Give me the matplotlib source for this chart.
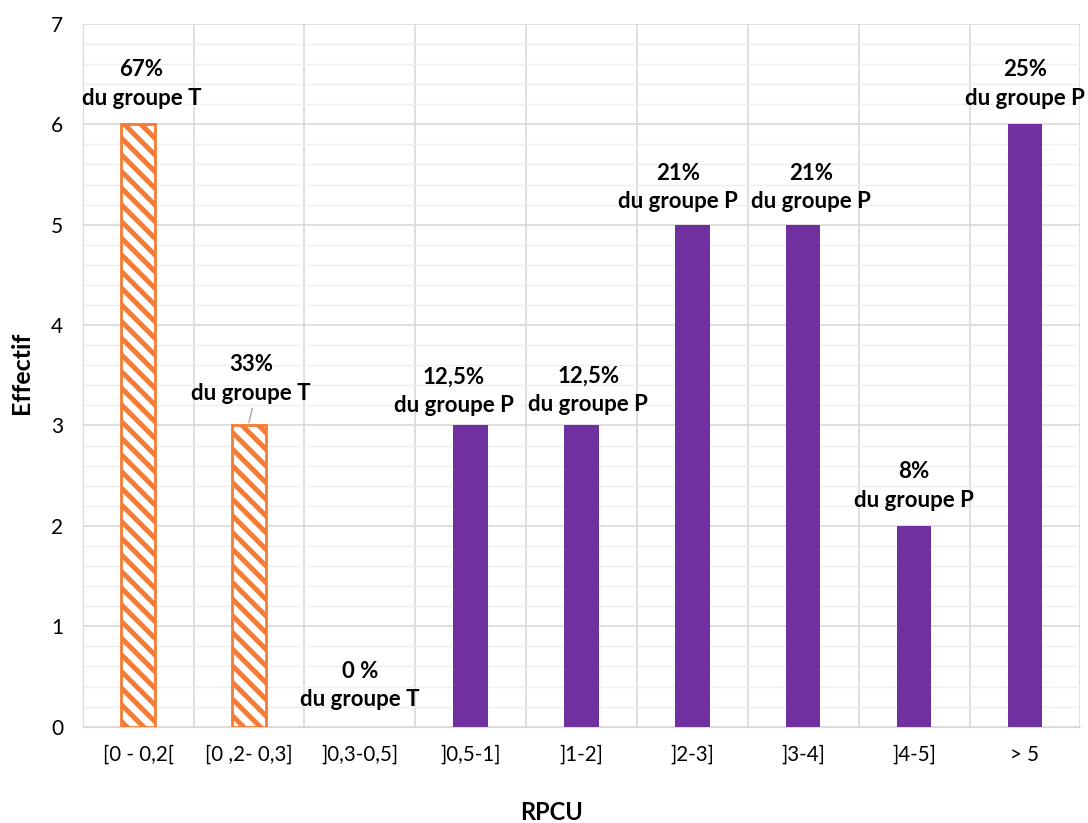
import matplotlib.pyplot as plt
import numpy as np

plt.rcParams['font.family'] = ['Lato', 'DejaVu Sans']
plt.rcParams['hatch.color'] = '#F47C36'
plt.rcParams['hatch.linewidth'] = 3.6

# données
categories = ['[0 - 0,2[', '[0 ,2- 0,3]', ']0,3-0,5]', ']0,5-1]', ']1-2]',
              ']2-3]', ']3-4]', ']4-5]', '> 5']
effectif = [6, 3, 0, 3, 3, 5, 5, 2, 6]
groupe = ['T', 'T', 'T', 'P', 'P', 'P', 'P', 'P', 'P']
pourcent = ['67%', '33%', '0 %', '12,5%', '12,5%', '21%', '21%', '8%', '25%']

# position des étiquettes (décalage x, centre en y)
lab_dx = [0.03, 0.02, 0, -0.15, 0.06, -0.13, 0.07, 0, 0]
lab_y = [6.40, 3.46, 0.41, 3.34, 3.35, 5.37, 5.37, 2.40, 6.40]

orange = '#F47C36'
violet = '#7030A0'

fig, ax = plt.subplots(figsize=(10.88, 8.23), dpi=100)
fig.subplots_adjust(left=0.076, right=0.993, top=0.971, bottom=0.117)

x = np.arange(len(categories))
for i in range(len(categories)):
    if groupe[i] == 'T':
        lw = 2 if effectif[i] > 0 else 0
        ax.bar(x[i], effectif[i], width=0.31, facecolor='white', edgecolor=orange,
               linewidth=lw, hatch='\\\\', zorder=3)
    else:
        ax.bar(x[i], effectif[i], width=0.31, color=violet, zorder=3)
    ax.text(x[i] + lab_dx[i], lab_y[i], pourcent[i] + '\ndu groupe ' + groupe[i],
            ha='center', va='center', fontsize=16, fontweight='bold',
            linespacing=1.45, zorder=4)

# petit trait de rappel pour 33%
ax.plot([1.0, 1.03], [3.03, 3.17], color='#a6a6a6', lw=1, zorder=4)

ax.set_xlim(-0.5, len(categories) - 0.5)
ax.set_ylim(0, 7)
ax.set_yticks(range(8))
ax.set_yticks(np.arange(0, 7.01, 0.2), minor=True)
ax.set_xticks(x)
ax.set_xticklabels(categories, fontsize=14.8)
ax.tick_params(axis='y', labelsize=15, length=0, pad=14, which='both')
ax.tick_params(axis='x', length=0, pad=13)
ax.tick_params(axis='y', which='minor', length=0)

ax.grid(axis='y', which='major', color='#d9d9d9', lw=1.2, zorder=0)
ax.grid(axis='y', which='minor', color='#efefef', lw=1, zorder=0)
for b in np.arange(-0.5, len(categories), 1):
    ax.axvline(b, color='#d9d9d9', lw=1.2, zorder=0)

for s in ['top', 'right']:
    ax.spines[s].set_visible(False)
ax.spines['left'].set_color('#d9d9d9')
ax.spines['bottom'].set_color('#d9d9d9')

ax.set_xlabel('RPCU', fontsize=17, fontweight='bold')
ax.set_ylabel('Effectif', fontsize=18, fontweight='bold')
ax.xaxis.set_label_coords(0.47, -0.105)
ax.yaxis.set_label_coords(-0.05, 0.504)

plt.savefig('out.png')
